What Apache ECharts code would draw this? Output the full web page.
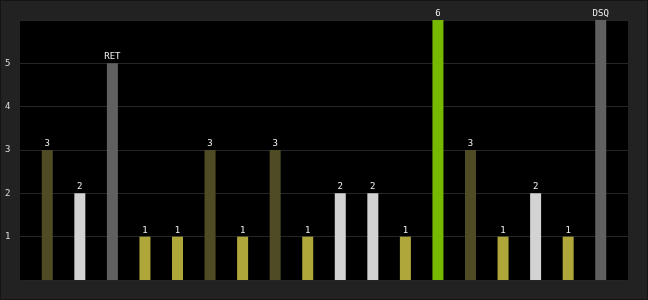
<!DOCTYPE html>
<html>
<head>
<meta charset="utf-8">
<script src="https://cdn.jsdelivr.net/npm/echarts@6/dist/echarts.min.js"></script>
<style>
  html, body { margin: 0; padding: 0; background: #222; }
  #chart { width: 646px; height: 298px; border: 1px solid #141414; background: #222222; }
</style>
</head>
<body>
<div id="chart"></div>
<script>
  // one bar per round
  var rounds = ['R1','R2','R3','R4','R5','R6','R7','R8','R9','R10','R11','R12','R13','R14','R15','R16','R17','R18'];
  var scores = [3, 2, 5, 1, 1, 3, 1, 3, 1, 2, 2, 1, 6, 3, 1, 2, 1, 6];
  var marks  = ['3','2','RET','1','1','3','1','3','1','2','2','1','6','3','1','2','1','DSQ'];
  var yTicks = [1, 2, 3, 4, 5];

  // colour by result
  var palette = { 1: '#b0a73a', 2: '#d3d3d3', 3: '#4f4c25', 6: '#76b900' };
  function barColor(i) {
    if (marks[i] === 'RET' || marks[i] === 'DSQ') return '#606060';
    return palette[scores[i]];
  }

  var chart = echarts.init(document.getElementById('chart'));
  var mono = 'DejaVu Sans Mono';

  chart.setOption({
    backgroundColor: '#222222',
    animation: false,
    grid: [
      { left: 19, right: 19, top: 19, bottom: 19, show: true, backgroundColor: '#000', borderWidth: 0 },
      { left: 30, right: 30, top: 19, bottom: 19 }
    ],
    xAxis: [
      { gridIndex: 0, type: 'value', min: 0, max: 1, show: false },
      { gridIndex: 1, type: 'category', data: rounds, show: false }
    ],
    yAxis: [
      {
        gridIndex: 0, type: 'value', min: 0, max: 6, interval: 1,
        axisLine: { show: false }, axisTick: { show: false },
        splitLine: { lineStyle: { color: '#262626', width: 1 } },
        axisLabel: {
          color: '#ddd', fontFamily: mono, fontSize: 9, align: 'left', margin: 15,
          formatter: function (v) { return yTicks.indexOf(v) >= 0 ? String(v) : ''; }
        }
      },
      { gridIndex: 1, type: 'value', min: 0, max: 6, show: false }
    ],
    series: [{
      type: 'bar',
      xAxisIndex: 1, yAxisIndex: 1,
      barWidth: 11,
      data: scores.map(function (v, i) {
        return { value: v, itemStyle: { color: barColor(i) } };
      }),
      label: {
        show: true, position: 'top', distance: 2,
        color: '#eee', fontFamily: mono, fontSize: 9,
        formatter: function (p) { return marks[p.dataIndex]; }
      }
    }]
  });
</script>
</body>
</html>
